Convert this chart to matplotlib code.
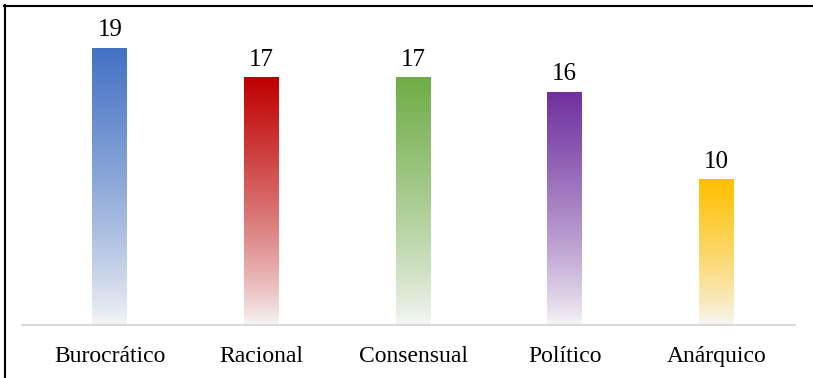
import matplotlib.pyplot as plt
import numpy as np
from matplotlib.colors import LinearSegmentedColormap

categories = ["Burocrático", "Racional", "Consensual", "Político", "Anárquico"]
values = [19, 17, 17, 16, 10]
colors = ["#4472C4", "#C00000", "#70AD47", "#7030A0", "#FFC000"]

plt.rcParams['font.family'] = ['Liberation Serif', 'DejaVu Serif']

fig = plt.figure(figsize=(8.13, 3.78), dpi=100)
ax = fig.add_axes([22 / 813, (378 - 325) / 378, (795 - 22) / 813, 277 / 378 * 20.5 / 19])

x = np.arange(len(categories))
bar_w = 0.23
ax.set_xlim(-0.58, 4.52)
ax.set_ylim(0, 20.5)

grad = np.linspace(0, 1, 256).reshape(-1, 1) ** 0.8
for xi, v, c in zip(x, values, colors):
    cmap = LinearSegmentedColormap.from_list("g", ["#F7F7F7", c])
    bar = ax.bar(xi, v, width=bar_w, color="none", edgecolor="none")[0]
    im = ax.imshow(grad, cmap=cmap, aspect="auto", origin="lower",
                   extent=[xi - bar_w / 2, xi + bar_w / 2, 0, v], zorder=2)
    im.set_clip_path(bar)
    ax.text(xi, v + 0.45, str(v), ha="center", va="bottom", fontsize=18)

for s in ["top", "right", "left"]:
    ax.spines[s].set_visible(False)
ax.spines["bottom"].set_color("#D9D9D9")
ax.spines["bottom"].set_linewidth(1.5)
ax.set_yticks([])
ax.set_xticks(x)
ax.set_xticklabels(categories, fontsize=17)
ax.tick_params(axis="x", length=0, pad=15)

# outer frame (left and top edges visible)
fig.add_artist(plt.Line2D([4.5 / 813, 4.5 / 813], [0, 1 - 5 / 378], color="black", lw=1.5))
fig.add_artist(plt.Line2D([4 / 813, 1], [1 - 5.5 / 378, 1 - 5.5 / 378], color="black", lw=1.5))

fig.savefig("out.png", dpi=100)
